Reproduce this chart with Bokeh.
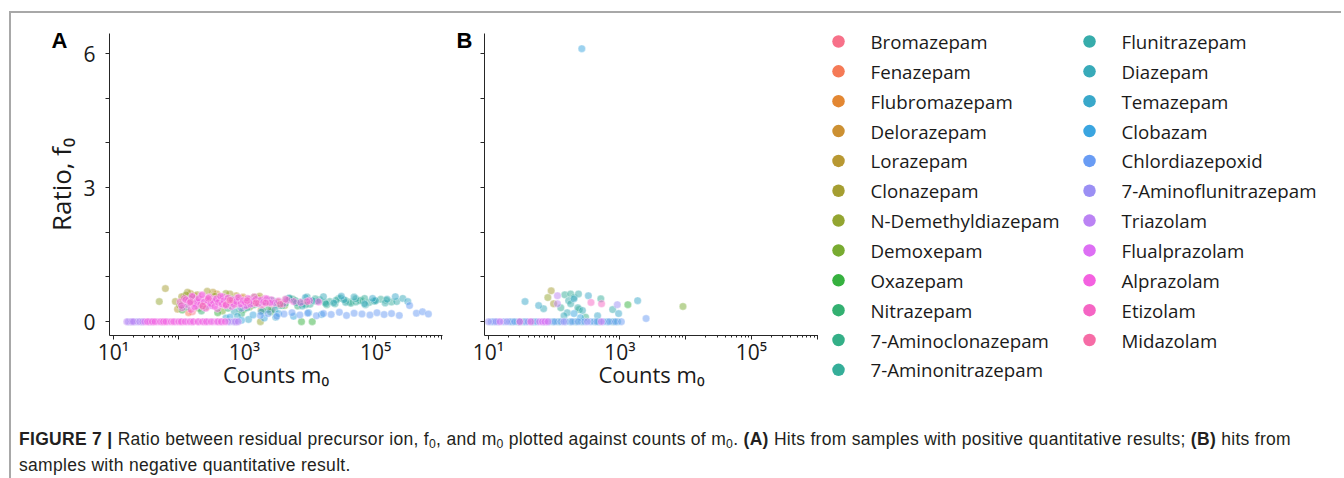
from bokeh.plotting import figure
from bokeh.models import FixedTicker, Div, Range1d, LinearAxis
from bokeh.core.properties import value
from bokeh.layouts import row, column
from bokeh.embed import file_html
from bokeh.resources import INLINE

# ---------------- categories ----------------
compounds = ["Bromazepam", "Fenazepam", "Flubromazepam", "Delorazepam", "Lorazepam",
             "Clonazepam", "N-Demethyldiazepam", "Demoxepam", "Oxazepam", "Nitrazepam",
             "7-Aminoclonazepam", "7-Aminonitrazepam", "Flunitrazepam", "Diazepam",
             "Temazepam", "Clobazam", "Chlordiazepoxid", "7-Aminoflunitrazepam",
             "Triazolam", "Flualprazolam", "Alprazolam", "Etizolam", "Midazolam"]

colors = ["#f77189", "#f57a56", "#e38732", "#cc9032", "#b89832", "#a59e31", "#93a531",
          "#78ab31", "#36b13f", "#33b071", "#34af87", "#35ae99", "#37acab", "#38aab9",
          "#39a8ca", "#3aa5e0", "#699cf4", "#9b8ff4", "#bb83f4", "#dd6ff4", "#f461e0",
          "#f565c4", "#f66ca6"]

# ---------------- panel A: positive samples (counts m0, ratio f0) ----------------
a_bromazepam_m0 = [160, 420, 1300, 2600]
a_bromazepam_f0 = [0.22, 0.47, 0.38, 0.27]
a_fenazepam_m0 = [140, 310, 900]
a_fenazepam_f0 = [0.20, 0.44, 0.52]
a_flubromazepam_m0 = [125, 260, 700, 1800]
a_flubromazepam_f0 = [0.50, 0.33, 0.45, 0.26]
a_delorazepam_m0 = [115, 170, 240, 380, 560, 950, 2100]
a_delorazepam_f0 = [0.48, 0.58, 0.42, 0.62, 0.50, 0.55, 0.46]
a_lorazepam_m0 = [95, 120, 150, 210, 330, 480, 750, 1600, 3200]
a_lorazepam_f0 = [0.28, 0.55, 0.63, 0.50, 0.66, 0.47, 0.58, 0.52, 0.44]
a_clonazepam_m0 = [62, 88, 110, 135, 190, 270, 400, 600, 1100, 1700]
a_clonazepam_f0 = [0.74, 0.45, 0.56, 0.66, 0.60, 0.68, 0.54, 0.62, 0.49, 0.57]
a_ndemethyl_m0 = [50, 102, 128, 175, 230, 350, 520, 820, 1400, 1750, 2400, 5200]
a_ndemethyl_f0 = [0.45, 0.36, 0.60, 0.52, 0.41, 0.57, 0.63, 0.48, 0.55, 0.00, 0.44, 0.50]
a_demoxepam_m0 = [108, 145, 200, 300, 460, 700, 1200, 2200, 4100]
a_demoxepam_f0 = [0.38, 0.52, 0.30, 0.46, 0.24, 0.40, 0.33, 0.44, 0.36]
a_oxazepam_m0 = [112, 160, 250, 390, 640, 980, 1500, 2500, 7400, 10800]
a_oxazepam_f0 = [0.26, 0.43, 0.35, 0.20, 0.50, 0.28, 0.42, 0.22, 0.00, 0.00]
a_nitrazepam_m0 = [130, 220, 350, 560, 900, 1400, 2300, 3900, 6500]
a_nitrazepam_f0 = [0.33, 0.24, 0.47, 0.30, 0.18, 0.38, 0.27, 0.41, 0.35]
a_aminoclonazepam_m0 = [850, 1250, 1900, 2700, 3800, 5500, 8000, 12000, 18000, 27000, 41000, 60000]
a_aminoclonazepam_f0 = [0.28, 0.42, 0.24, 0.47, 0.36, 0.50, 0.40, 0.46, 0.38, 0.51, 0.44, 0.48]
a_aminonitrazepam_m0 = [1600, 2400, 3500, 5000, 7200, 10000, 14000, 20000, 29000, 42000, 58000,
                        80000, 120000, 175000,
                        2000, 4200, 6000, 8600, 12000, 17000, 24000, 35000, 50000, 68000,
                        98000, 145000]
a_aminonitrazepam_f0 = [0.40, 0.48, 0.36, 0.52, 0.44, 0.39, 0.49, 0.45, 0.53, 0.41, 0.47,
                        0.43, 0.50, 0.44,
                        0.45, 0.41, 0.47, 0.38, 0.51, 0.43, 0.40, 0.47, 0.44, 0.52,
                        0.46, 0.48]
a_flunitrazepam_m0 = [2100, 3100, 4400, 6200, 9000, 13000, 17500, 25000, 35000, 50000, 70000,
                      95000, 140000, 210000]
a_flunitrazepam_f0 = [0.45, 0.38, 0.50, 0.42, 0.55, 0.46, 0.40, 0.48, 0.43, 0.51, 0.38,
                      0.46, 0.42, 0.45]
a_diazepam_m0 = [700, 1100, 1700, 2900, 4800, 7600, 11000, 16000, 23000, 33000, 47000, 68000,
                 100000, 150000, 260000]
a_diazepam_f0 = [0.22, 0.31, 0.44, 0.26, 0.53, 0.35, 0.47, 0.56, 0.42, 0.49, 0.55, 0.40,
                 0.47, 0.50, 0.52]
a_temazepam_m0 = [520, 780, 1150, 1800, 3000, 8500, 30000, 90000, 200000, 310000]
a_temazepam_f0 = [0.08, 0.12, 0.05, 0.22, 0.10, 0.54, 0.57, 0.52, 0.56, 0.45]
a_clobazam_m0 = [600, 900, 1350, 2000, 3300, 5600, 9500, 15000]
a_clobazam_f0 = [0.10, 0.03, 0.15, 0.08, 0.18, 0.12, 0.20, 0.16]
a_chlordiazepoxid_m0 = [1750, 2300, 3100, 4000, 5300, 7000, 9200, 12500, 16000, 21000, 28000,
                        36000, 47000, 62000, 82000, 105000, 135000, 175000, 230000, 330000,
                        420000, 520000, 640000]
a_chlordiazepoxid_f0 = [0.14, 0.18, 0.12, 0.17, 0.20, 0.15, 0.19, 0.13, 0.18, 0.16, 0.21,
                        0.14, 0.19, 0.17, 0.15, 0.20, 0.16, 0.18, 0.14, 0.36,
                        0.19, 0.22, 0.17]
a_aminoflunitrazepam_m0 = [17, 18, 21, 23, 27, 300, 600, 680, 750, 900]
a_aminoflunitrazepam_f0 = [0, 0, 0, 0, 0, 0.36, 0, 0, 0, 0.30]
a_triazolam_m0 = [16, 19, 20, 25, 28, 35, 220, 560, 720, 800, 1300]
a_triazolam_f0 = [0, 0, 0, 0, 0, 0, 0.45, 0, 0, 0, 0.40]
a_flualprazolam_m0 = [30, 36, 40, 47, 56, 68, 90, 112, 135, 160, 180, 200, 245, 280, 340, 400,
                      450, 455, 1000, 2600]
a_flualprazolam_f0 = [0, 0, 0, 0, 0, 0, 0, 0, 0, 0, 0.40, 0, 0, 0, 0, 0,
                      0.50, 0, 0.35, 0.44]
a_alprazolam_m0 = [33, 39, 43, 52, 58, 63, 76, 83, 99, 108, 124, 148, 166, 195, 228, 262, 310,
                   385, 440, 505,
                   104, 112, 121, 133, 139, 152, 161, 168, 183, 196, 207, 219, 233, 248, 264,
                   281, 296, 318, 342, 361, 387, 412, 445, 468, 503, 541, 587, 632, 661, 718,
                   776, 845, 912, 985, 1070, 1180, 1290, 1410, 1530, 1680, 1850, 2060, 2290,
                   2570, 2880, 3300, 3850, 4500, 5600, 7200, 9800, 13500,
                   109, 127, 146, 158, 174, 188, 201, 214, 226, 241, 257, 273, 289, 305, 330,
                   352, 372, 398, 430, 457, 485, 522, 563, 605, 648, 695, 748, 810, 880, 955,
                   1030, 1120, 1230, 1350, 1480, 1620, 1780, 1960, 2180, 2440]
a_alprazolam_f0 = [0, 0, 0, 0, 0, 0, 0, 0, 0, 0, 0, 0, 0, 0, 0, 0, 0,
                   0, 0, 0,
                   0.44, 0.31, 0.52, 0.38, 0.47, 0.27, 0.55, 0.41, 0.35, 0.49, 0.43, 0.58, 0.33,
                   0.46, 0.39, 0.53, 0.42, 0.36, 0.50, 0.45, 0.29, 0.48, 0.40, 0.56, 0.37, 0.51,
                   0.44, 0.34, 0.47, 0.42, 0.53, 0.39, 0.48, 0.45, 0.36, 0.50, 0.43, 0.55, 0.41,
                   0.47, 0.38, 0.52, 0.44, 0.49, 0.42, 0.46, 0.40, 0.48, 0.45, 0.43, 0.47, 0.44,
                   0.36, 0.49, 0.42, 0.57, 0.33, 0.45, 0.52, 0.38, 0.60, 0.44, 0.30, 0.48, 0.55,
                   0.40, 0.46, 0.34, 0.51, 0.43, 0.57, 0.39, 0.47, 0.36, 0.53, 0.42, 0.49, 0.38,
                   0.45, 0.54, 0.40, 0.47, 0.43, 0.52, 0.39, 0.46, 0.50, 0.41, 0.48, 0.44, 0.51,
                   0.42]
a_etizolam_m0 = [150, 280, 520, 1100, 2100, 4200, 9000]
a_etizolam_f0 = [0.44, 0.52, 0.38, 0.47, 0.42, 0.50, 0.45]
a_midazolam_m0 = [230, 600, 1500, 3500]
a_midazolam_f0 = [0.35, 0.48, 0.42, 0.39]

# ---------------- panel B: negative samples ----------------
b_clonazepam_m0 = [90, 98]
b_clonazepam_f0 = [0.69, 0.40]
b_ndemethyl_m0 = [80]
b_ndemethyl_f0 = [0.54]
b_demoxepam_m0 = [9100]
b_demoxepam_f0 = [0.34]
b_oxazepam_m0 = [1320]
b_oxazepam_f0 = [0.38]
b_aminoclonazepam_m0 = [240, 300]
b_aminoclonazepam_f0 = [0.27, 0.10]
b_aminonitrazepam_m0 = [145, 178, 200, 126, 512]
b_aminonitrazepam_f0 = [0.60, 0.62, 0.54, 0.31, 0.51]
b_flunitrazepam_m0 = [166, 178, 234, 229, 775]
b_flunitrazepam_f0 = [0.47, 0.40, 0.62, 0.31, 0.27]
b_diazepam_m0 = [69, 158, 269, 141, 28, 50, 115, 210, 480, 780]
b_diazepam_f0 = [0.29, 0.20, 0.25, 0.13, 0, 0, 0, 0, 0, 0]
b_temazepam_m0 = [36, 58, 200, 331, 955, 1860, 457, 23, 34, 95, 175, 260, 410, 640, 920]
b_temazepam_f0 = [0.45, 0.36, 0.51, 0.58, 0.18, 0.47, 0.13, 0, 0, 0, 0, 0, 0, 0, 0]
b_clobazam_m0 = [263, 251, 200]
b_clobazam_f0 = [6.11, 0.09, 0.18]
b_chlordiazepoxid_m0 = [2500, 11, 12, 14, 17, 21, 25, 30, 37, 46, 55, 68, 84, 102, 126, 150,
                        188, 230, 290, 360, 445, 560, 690, 850, 1050]
b_chlordiazepoxid_f0 = [0.07, 0, 0, 0, 0, 0, 0, 0, 0, 0, 0, 0, 0, 0, 0, 0,
                        0, 0, 0, 0, 0, 0, 0, 0, 0]
b_aminoflunitrazepam_m0 = [10, 13, 19, 40, 75, 140, 320, 912]
b_aminoflunitrazepam_f0 = [0, 0, 0, 0, 0, 0, 0, 0.38]
b_triazolam_m0 = [112, 112]
b_triazolam_f0 = [0.58, 0.40]
b_flualprazolam_m0 = [15, 60, 66, 72, 80, 520]
b_flualprazolam_f0 = [0, 0, 0, 0, 0, 0]
b_alprazolam_m0 = [30, 44]
b_alprazolam_f0 = [0, 0]
b_etizolam_m0 = [363, 525]
b_etizolam_f0 = [0.43, 0.40]

# ---------------- axis ticks / legend layout ----------------
x_major_ticks = [10, 100, 1000, 10000, 100000, 1000000]
x_tick_labels = {10: "10¹", 100: "", 1000: "10³", 10000: "", 100000: "10⁵", 1000000: ""}
y_major_ticks = [0, 1, 2, 3, 4, 5, 6]
y_tick_labels = {0: "0", 1: "", 2: "", 3: "3", 4: "", 5: "", 6: "6"}
panel_letter_level = 6.29
legend_col = [0] * 12 + [1] * 11
legend_row = list(range(12)) + list(range(11))

SUB = '<sub style="font-size:70%;line-height:0;vertical-align:-0.25em">0</sub>'
caption_html = ("<b>FIGURE 7 |</b> Ratio between residual precursor ion, f" + SUB + ", and "
                "m" + SUB + " plotted against counts of m" + SUB + ". <b>(A)</b> Hits from "
                "samples with positive quantitative results; <b>(B)</b> hits from<br>"
                "samples with negative quantitative result.")

# ---------------- assemble ----------------
E = []
A_DATA = [(a_bromazepam_m0, a_bromazepam_f0), (a_fenazepam_m0, a_fenazepam_f0),
          (a_flubromazepam_m0, a_flubromazepam_f0), (a_delorazepam_m0, a_delorazepam_f0),
          (a_lorazepam_m0, a_lorazepam_f0), (a_clonazepam_m0, a_clonazepam_f0),
          (a_ndemethyl_m0, a_ndemethyl_f0), (a_demoxepam_m0, a_demoxepam_f0),
          (a_oxazepam_m0, a_oxazepam_f0), (a_nitrazepam_m0, a_nitrazepam_f0),
          (a_aminoclonazepam_m0, a_aminoclonazepam_f0),
          (a_aminonitrazepam_m0, a_aminonitrazepam_f0),
          (a_flunitrazepam_m0, a_flunitrazepam_f0), (a_diazepam_m0, a_diazepam_f0),
          (a_temazepam_m0, a_temazepam_f0), (a_clobazam_m0, a_clobazam_f0),
          (a_chlordiazepoxid_m0, a_chlordiazepoxid_f0),
          (a_aminoflunitrazepam_m0, a_aminoflunitrazepam_f0),
          (a_triazolam_m0, a_triazolam_f0), (a_flualprazolam_m0, a_flualprazolam_f0),
          (a_alprazolam_m0, a_alprazolam_f0), (a_etizolam_m0, a_etizolam_f0),
          (a_midazolam_m0, a_midazolam_f0)]
B_DATA = [(E, E), (E, E), (E, E), (E, E), (E, E),
          (b_clonazepam_m0, b_clonazepam_f0), (b_ndemethyl_m0, b_ndemethyl_f0),
          (b_demoxepam_m0, b_demoxepam_f0), (b_oxazepam_m0, b_oxazepam_f0), (E, E),
          (b_aminoclonazepam_m0, b_aminoclonazepam_f0),
          (b_aminonitrazepam_m0, b_aminonitrazepam_f0),
          (b_flunitrazepam_m0, b_flunitrazepam_f0), (b_diazepam_m0, b_diazepam_f0),
          (b_temazepam_m0, b_temazepam_f0), (b_clobazam_m0, b_clobazam_f0),
          (b_chlordiazepoxid_m0, b_chlordiazepoxid_f0),
          (b_aminoflunitrazepam_m0, b_aminoflunitrazepam_f0),
          (b_triazolam_m0, b_triazolam_f0), (b_flualprazolam_m0, b_flualprazolam_f0),
          (b_alprazolam_m0, b_alprazolam_f0), (b_etizolam_m0, b_etizolam_f0), (E, E)]

for m, f in A_DATA + B_DATA:
    assert len(m) == len(f)

FONT = "Open Sans"
INK = "#1a1a1a"
X_MINOR = [k * 10 ** e for e in range(1, 6) for k in range(2, 10)]
H = 398


def make_panel(width, left, right, letter, letter_standoff, show_y):
    p = figure(width=width, height=H, x_axis_type="log",
               x_range=Range1d(8.7, 1.05e6), y_range=Range1d(-0.31, 6.45),
               output_backend="svg", toolbar_location=None,
               min_border_left=left, min_border_right=right,
               min_border_top=20, min_border_bottom=H - 20 - 302)
    p.outline_line_color = None
    p.grid.visible = False
    xa, ya = p.xaxis[0], p.yaxis[0]
    xa.ticker = FixedTicker(ticks=x_major_ticks, minor_ticks=X_MINOR)
    xa.major_label_overrides = x_tick_labels
    ya.ticker = FixedTicker(ticks=y_major_ticks)
    if show_y:
        ya.major_label_overrides = y_tick_labels
        ya.axis_label = "Ratio, f₀"
        ya.axis_label_text_font_size = "26px"
        ya.axis_label_text_font = FONT
        ya.axis_label_text_font_style = "normal"
        ya.axis_label_text_color = INK
        ya.axis_label_standoff = 1
    else:
        ya.major_label_overrides = {t: "" for t in y_major_ticks}
    xa.axis_label = "Counts m₀"
    xa.axis_label_text_font_size = "22px"
    xa.axis_label_text_font = FONT
    xa.axis_label_text_font_style = "normal"
    xa.axis_label_text_color = INK
    xa.axis_label_standoff = -10
    for ax in (xa, ya):
        ax.axis_line_color = "#262626"
        ax.axis_line_width = 1
        ax.major_tick_line_color = "#262626"
        ax.major_tick_out = 4
        ax.major_tick_in = 0
        ax.major_label_text_font = FONT
        ax.major_label_text_font_size = "21px"
        ax.major_label_text_color = INK
    xa.minor_tick_line_color = "#262626"
    xa.minor_tick_out = 2
    xa.minor_tick_in = 0
    ya.minor_tick_line_color = None
    xa.major_label_standoff = -2
    ya.major_label_standoff = 10
    # panel letter, set as a single bold tick label on an outer left axis
    la = LinearAxis(ticker=FixedTicker(ticks=[panel_letter_level]),
                    major_label_overrides={panel_letter_level: letter},
                    axis_line_color=None, major_tick_line_color=None,
                    minor_tick_line_color=None, major_tick_out=0, major_tick_in=0,
                    major_label_standoff=letter_standoff,
                    major_label_text_font="Liberation Sans",
                    major_label_text_font_size="22px",
                    major_label_text_font_style="bold",
                    major_label_text_color="#000000")
    p.add_layout(la, "left")
    return p


pA = make_panel(442, 98, 11, "A", -27, True)
pB = make_panel(365, 31, 0, "B", 8, False)

for panel, data in ((pA, A_DATA), (pB, B_DATA)):
    for (m0, f0), col in zip(data, colors):
        if len(m0):
            panel.scatter(x=m0, y=f0, size=7.5, fill_color=col, fill_alpha=0.5,
                          line_color="white", line_alpha=0.6, line_width=0.6)

# legend panel (two columns of colour keys)
pL = figure(width=518, height=H, x_range=Range1d(-0.0797, 1.984),
            y_range=Range1d(12.395, -0.938),
            x_axis_location=None, y_axis_location=None, output_backend="svg",
            toolbar_location=None, min_border_left=0, min_border_right=0,
            min_border_top=0, min_border_bottom=0)
if "frame_align" in pL.properties():
    pL.frame_align = False
pL.outline_line_color = None
pL.grid.visible = False
pL.scatter(x=legend_col, y=legend_row, size=12.5, fill_color=colors, line_color=None)
pL.text(x=legend_col, y=legend_row, text=compounds, x_offset=32,
        text_baseline="middle", text_align="left", text_font=value(FONT),
        text_font_size="18.7px", text_color=INK)

cap = Div(text=('<div style="font-family:\'Liberation Sans\',Arial,sans-serif;font-size:17.5px;'
                'letter-spacing:0.3px;line-height:26px;padding-top:10px;padding-left:3px;'
                'color:#231f20;white-space:nowrap;">' + caption_html + '</div>'),
          width=1320, height=62)

layout = column(row(pA, pB, pL), cap,
                styles={"border-top": "2px solid #a8a8a8", "border-left": "2px solid #a8a8a8",
                        "margin-top": "11px", "margin-left": "9px"})

open("out.html", "w").write(file_html(layout, INLINE))
